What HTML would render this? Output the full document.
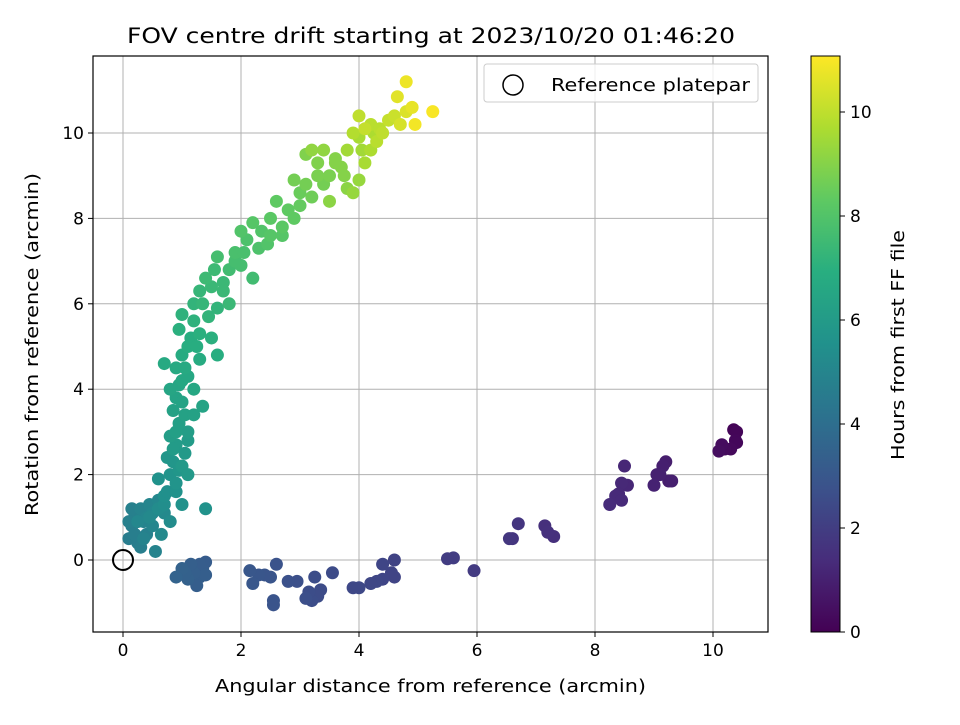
<!DOCTYPE html>
<html><head><meta charset="utf-8"><style>
body{margin:0;background:#fff;}
svg text{font-family:"DejaVu Sans","Liberation Sans",sans-serif;fill:#000;}
</style></head><body>
<svg id="chart" width="960" height="720" viewBox="0 0 960 720" xmlns="http://www.w3.org/2000/svg">
<rect width="960" height="720" fill="#fff"/>
<defs><linearGradient id="vir" x1="0" y1="1" x2="0" y2="0">
<stop offset="0" stop-color="#440154"/><stop offset="0.125" stop-color="#472d7b"/><stop offset="0.25" stop-color="#3b528b"/><stop offset="0.375" stop-color="#2c728e"/><stop offset="0.5" stop-color="#21918c"/><stop offset="0.625" stop-color="#28ae80"/><stop offset="0.75" stop-color="#5ec962"/><stop offset="0.875" stop-color="#addc30"/><stop offset="1" stop-color="#fde725"/>
</linearGradient></defs>
<g id="grid"></g>
<g id="points"></g>
<circle id="refm" r="10" fill="none" stroke="#000" stroke-width="2"/>
<rect x="93" y="56" width="675" height="576" fill="none" stroke="#000" stroke-width="1.2"/>
<g id="axes"></g>
<text x="127" y="43" font-size="21" textLength="608" lengthAdjust="spacingAndGlyphs">FOV centre drift starting at 2023/10/20 01:46:20</text>
<text x="215" y="692" font-size="18" textLength="431" lengthAdjust="spacingAndGlyphs">Angular distance from reference (arcmin)</text>
<text x="38" y="516" font-size="18" textLength="343" lengthAdjust="spacingAndGlyphs" transform="rotate(-90 38 516)">Rotation from reference (arcmin)</text>
<g>
<rect x="484" y="64" width="274" height="38" rx="3" fill="#fff" fill-opacity="0.8" stroke="#ccc"/>
<circle cx="513" cy="85" r="10" fill="none" stroke="#000" stroke-width="1.5"/>
<text x="551" y="91" font-size="18" textLength="199" lengthAdjust="spacingAndGlyphs">Reference platepar</text>
</g>
<rect x="811" y="56" width="29" height="576" fill="url(#vir)" stroke="#000" stroke-width="1"/>
<g id="cbticks"></g>
<text x="904" y="460" font-size="18" textLength="230" lengthAdjust="spacingAndGlyphs" transform="rotate(-90 904 460)">Hours from first FF file</text>
</svg>
<script>
const xs=[10.35,10.4,10.38,10.3,10.2,10.15,10.1,10.4,
9.2,9.15,9.1,9.0,9.25,9.3,9.05,
8.5,8.45,8.55,8.35,8.25,8.45,8.4,
7.15,7.2,7.3,6.7,6.55,6.6,
5.95,5.6,5.5,
4.6,4.6,4.55,4.4,4.4,4.3,4.2,4.0,3.9,
3.55,3.35,3.3,3.2,3.25,3.15,3.1,2.95,2.8,
2.6,2.55,2.55,2.5,2.4,2.3,2.2,2.15,
1.4,1.35,1.3,1.25,1.2,1.15,1.1,1.05,1.0,0.9,1.4,1.3,
0.1,0.15,0.2,0.25,0.3,0.35,0.4,0.45,0.5,0.55,0.6,0.3,0.2,0.1,0.5,0.4,0.7,0.8,0.65,0.15,0.35,
0.7,0.9,1.0,0.8,0.6,1.4,0.85,1.0,0.75,0.9,1.1,0.8,0.95,1.1,0.85,1.05,1.35,0.9,1.2,
0.8,1.0,0.9,1.2,0.7,1.0,1.3,1.1,0.95,1.3,1.6,1.5,1.2,1.0,1.45,1.35,1.6,1.8,1.5,1.3,1.55,1.7,
1.8,2.0,1.9,2.2,1.6,2.1,2.3,2.0,2.5,2.7,2.5,2.2,2.8,2.6,3.0,2.7,
3.0,3.2,2.9,3.4,3.5,3.3,3.1,3.6,3.7,3.5,3.8,3.2,3.9,4.0,3.4,
3.8,4.0,4.2,4.1,3.9,4.2,4.4,4.0,4.5,4.6,4.3,4.1,
4.7,4.8,4.65,4.9,4.8,5.25,4.95,
0.9,1.0,1.1,0.95,1.05,0.85,1.15,1.25,1.2,1.4,1.7,1.9,2.05,2.35,2.45,2.9,3.1,3.3,3.6,3.75,4.05,4.25,4.35,0.45,0.6,0.25,0.75,0.9,1.05,1.1,0.7,0.95];
const ys=[3.05,3.0,2.8,2.6,2.6,2.7,2.55,2.75,
2.3,2.2,2.0,1.75,1.85,1.85,2.0,
2.2,1.8,1.75,1.5,1.3,1.4,1.55,
0.8,0.65,0.55,0.85,0.5,0.5,
-0.25,0.05,0.03,
0.0,-0.4,-0.3,-0.1,-0.45,-0.5,-0.55,-0.65,-0.65,
-0.3,-0.7,-0.85,-0.95,-0.4,-0.75,-0.9,-0.5,-0.5,
-0.1,-0.95,-1.05,-0.4,-0.35,-0.35,-0.55,-0.25,
-0.05,-0.2,-0.4,-0.6,-0.3,-0.1,-0.45,-0.3,-0.2,-0.4,-0.35,-0.1,
0.5,0.8,1.1,0.4,0.3,0.9,0.6,1.3,0.8,0.2,1.4,1.2,0.6,0.9,1.1,1.0,1.1,0.9,0.6,1.2,0.5,
1.5,1.6,1.3,2.0,1.9,1.2,2.3,2.2,2.4,2.7,2.0,2.9,3.2,3.0,3.5,3.4,3.6,3.8,3.4,
4.0,4.2,4.5,4.0,4.6,4.8,4.7,5.0,5.4,5.3,4.8,5.2,5.6,5.75,5.7,6.0,5.9,6.0,6.4,6.3,6.8,6.5,
6.8,6.9,7.2,6.6,7.1,7.5,7.3,7.7,7.6,7.6,8.0,7.9,8.2,8.4,8.3,7.8,
8.6,8.5,8.9,8.8,9.0,9.3,9.5,9.4,9.2,8.4,8.7,9.6,8.6,8.9,9.6,
9.6,9.9,9.6,9.3,10.0,10.2,10.0,10.4,10.3,10.4,9.8,10.1,
10.2,10.5,10.85,10.6,11.2,10.5,10.2,
3.0,3.7,4.3,4.1,4.5,2.6,5.2,5.0,6.0,6.6,6.3,7.0,7.2,7.7,7.4,8.0,8.8,9.0,9.3,9.0,9.6,10.0,10.1,1.0,1.2,0.9,1.6,1.8,2.5,2.8,1.3,2.1];
const ts=[0.1,0.15,0.2,0.25,0.3,0.35,0.4,0.2,
0.9,0.95,1.0,1.05,0.9,0.95,1.0,
1.2,1.25,1.2,1.3,1.35,1.3,1.25,
1.5,1.55,1.5,1.7,1.75,1.7,
1.9,2.0,2.0,
2.2,2.25,2.25,2.3,2.3,2.35,2.35,2.4,2.4,
2.5,2.55,2.55,2.6,2.6,2.6,2.65,2.7,2.75,
2.8,2.85,2.85,2.9,2.9,2.95,3.0,3.0,
3.2,3.25,3.3,3.3,3.35,3.35,3.4,3.4,3.45,3.5,3.3,3.25,
4.6,4.7,4.8,4.6,4.7,4.9,4.8,5.0,5.0,4.9,5.1,4.9,4.7,4.8,5.1,5.0,5.2,5.3,5.2,4.8,4.9,
5.5,5.6,5.6,5.7,5.6,5.6,5.8,5.9,5.8,6.0,5.9,6.1,6.2,6.1,6.3,6.3,6.4,6.4,6.3,
6.5,6.6,6.7,6.6,6.7,6.8,6.8,6.9,7.0,7.0,6.9,7.0,7.1,7.1,7.2,7.3,7.2,7.4,7.4,7.3,7.5,7.4,
7.6,7.7,7.8,7.6,7.7,7.9,7.9,8.0,8.1,8.1,8.2,8.1,8.3,8.3,8.4,8.2,
8.5,8.6,8.7,8.7,8.8,8.9,8.9,9.0,9.0,9.1,9.1,9.2,9.3,9.3,9.2,
9.5,9.6,9.7,9.6,9.8,9.9,10.0,10.0,10.1,10.2,9.9,10.1,
10.4,10.5,10.6,10.7,10.8,11.0,10.9,
6.2,6.4,6.6,6.5,6.7,6.0,6.9,6.9,7.2,7.5,7.4,7.7,7.8,8.0,8.0,8.3,8.7,8.8,9.0,9.0,9.5,9.7,9.9,5.2,5.3,5.1,5.5,5.7,5.9,6.0,5.4,5.8];
const xTicks=[0,2,4,6,8,10];
const yTicks=[0,2,4,6,8,10];
const cTicks=[0,2,4,6,8,10];
const NS='http://www.w3.org/2000/svg';
const X=v=>123+v*59, Y=v=>560-v*42.7, C=v=>632-v*52;
const stops=[[68,1,84],[71,45,123],[59,82,139],[44,114,142],[33,145,140],[40,174,128],[94,201,98],[173,220,48],[253,231,37]];
function vir(t){let f=Math.max(0,Math.min(1,t/11.08))*8,i=Math.min(7,Math.floor(f)),r=f-i;const a=stops[i],b=stops[i+1];return 'rgb('+a.map((c,k)=>Math.round(c+(b[k]-c)*r)).join(',')+')';}
function mk(tag,at,parent){const e=document.createElementNS(NS,tag);for(const k in at)e.setAttribute(k,at[k]);parent.appendChild(e);return e;}
const grid=document.getElementById('grid'),axes=document.getElementById('axes');
xTicks.forEach(v=>{
 const l=mk('line',{x1:X(v),x2:X(v),y1:56,y2:632,stroke:'#b0b0b0','stroke-width':1},grid);
 
 
 mk('line',{x1:X(v),x2:X(v),y1:632,y2:637,stroke:'#000'},axes);
 const t=mk('text',{x:X(v),y:656,'font-size':17,'text-anchor':'middle'},axes);t.textContent=v;
 
 
});
yTicks.forEach(v=>{
 const l=mk('line',{x1:93,x2:768,y1:Y(v),y2:Y(v),stroke:'#b0b0b0','stroke-width':1},grid);
 
 
 mk('line',{x1:88,x2:93,y1:Y(v),y2:Y(v),stroke:'#000'},axes);
 const t=mk('text',{x:84,y:Y(v)+6,'font-size':17,'text-anchor':'end'},axes);t.textContent=v;
 
 
});
const cb=document.getElementById('cbticks');
cTicks.forEach(v=>{
 mk('line',{x1:840,x2:845,y1:C(v),y2:C(v),stroke:'#000'},cb);
 const t=mk('text',{x:850,y:C(v)+6,'font-size':17},cb);t.textContent=v;
 
 
});
const pg=document.getElementById('points');
const order=ts.map((t,i)=>i).sort((a,b)=>ts[a]-ts[b]);
order.forEach(i=>{
 const c=mk('circle',{cx:X(xs[i]),cy:Y(ys[i]),r:6.5,fill:vir(ts[i])},pg);
 
 
});
const rm=document.getElementById('refm');rm.setAttribute('cx',X(0));rm.setAttribute('cy',Y(0));
</script>
</body></html>
